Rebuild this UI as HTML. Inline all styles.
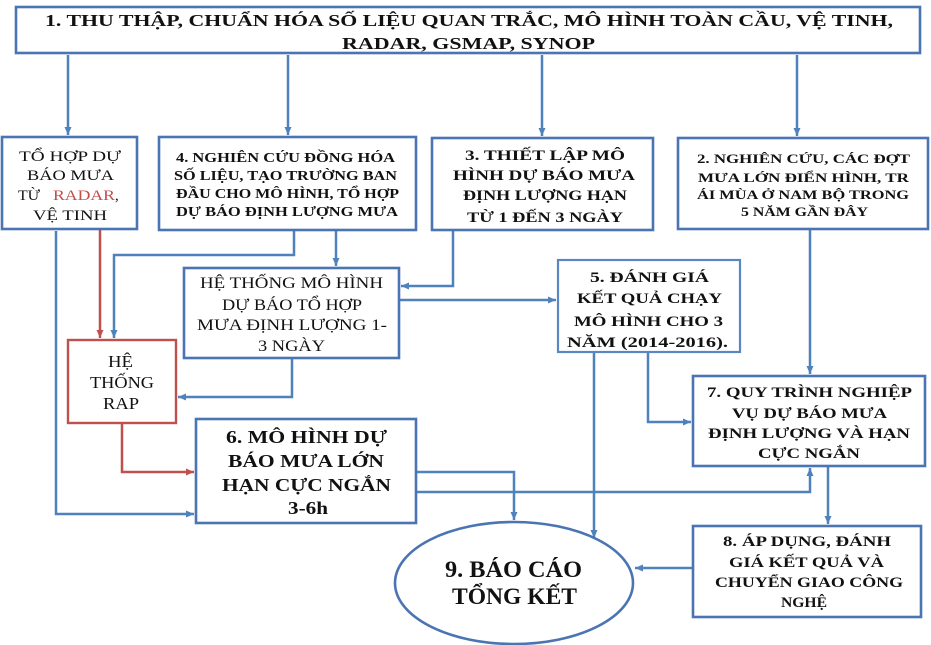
<!DOCTYPE html>
<html>
<head>
<meta charset="utf-8">
<style>
  html,body{margin:0;padding:0;background:#fff;}
  svg{display:block;}
  text{font-family:"Liberation Serif","DejaVu Serif",serif;fill:#111;}
  .b{font-weight:bold;}
</style>
</head>
<body>
<svg width="931" height="645" viewBox="0 0 931 645" xmlns="http://www.w3.org/2000/svg">
  <defs>
    <marker id="ab" markerUnits="userSpaceOnUse" markerWidth="10" markerHeight="10" refX="8" refY="4" orient="auto">
      <path d="M0,0.5 L8,4 L0,7.5 Z" fill="#4f81bd"/>
    </marker>
    <marker id="ar" markerUnits="userSpaceOnUse" markerWidth="10" markerHeight="10" refX="8" refY="4" orient="auto">
      <path d="M0,0.5 L8,4 L0,7.5 Z" fill="#c0504d"/>
    </marker>
  </defs>
  <rect width="931" height="645" fill="#fff"/>

  <!-- connectors blue -->
  <g fill="none" stroke="#4f81bd" stroke-width="2.5" stroke-linejoin="miter">
    <polyline points="68,55 68,135" marker-end="url(#ab)"/>
    <polyline points="288,55 288,135" marker-end="url(#ab)"/>
    <polyline points="542,55 542,136" marker-end="url(#ab)"/>
    <polyline points="797,55 797,136" marker-end="url(#ab)"/>
    <polyline points="56,231 56,514 194,514" marker-end="url(#ab)"/>
    <polyline points="294,231 294,255 114,255 114,338" marker-end="url(#ab)"/>
    <polyline points="336,231 336,266" marker-end="url(#ab)"/>
    <polyline points="453,231 453,286 401,286" marker-end="url(#ab)"/>
    <polyline points="400,300 556,300" marker-end="url(#ab)"/>
    <polyline points="292,359 292,397 178,397" marker-end="url(#ab)"/>
    <polyline points="417,472 514,472 514,520" marker-end="url(#ab)"/>
    <polyline points="417,492 810,492 810,468" marker-end="url(#ab)"/>
    <polyline points="594,353 594,538" marker-end="url(#ab)"/>
    <polyline points="648,353 648,422 691,422" marker-end="url(#ab)"/>
    <polyline points="810,230 810,374" marker-end="url(#ab)"/>
    <polyline points="828,467 828,524" marker-end="url(#ab)"/>
    <polyline points="692,568 635,568" marker-end="url(#ab)"/>
  </g>
  <!-- connectors red -->
  <g fill="none" stroke="#c0504d" stroke-width="2.5">
    <polyline points="100,230 100,338" marker-end="url(#ar)"/>
    <polyline points="122,424 122,472 194,472" marker-end="url(#ar)"/>
  </g>

  <!-- boxes -->
  <g fill="#fff" stroke="#4a74b2" stroke-width="2.6">
    <rect x="16" y="7" width="904" height="46"/>
    <rect x="2" y="137" width="135" height="92"/>
    <rect x="159" y="137" width="257" height="93"/>
    <rect x="432" y="138" width="221" height="92"/>
    <rect x="678" y="138" width="250" height="91"/>
    <rect x="184" y="268" width="215" height="90"/>
    <rect x="558" y="260" width="182" height="92" stroke-width="2.2" stroke="#5a86c2"/>
    <rect x="196" y="419" width="220" height="104"/>
    <rect x="693" y="376" width="232" height="90"/>
    <rect x="693" y="526" width="228" height="91"/>
    <ellipse cx="514" cy="583" rx="119" ry="61"/>
  </g>
  <rect x="68" y="340" width="108" height="83" fill="#fff" stroke="#c0504d" stroke-width="2.4"/>

  <!-- Box 1 -->
  <text class="b" font-size="17" x="45" y="26" textLength="848" lengthAdjust="spacingAndGlyphs">1. THU THẬP, CHUẨN HÓA SỐ LIỆU QUAN TRẮC, MÔ HÌNH TOÀN CẦU, VỆ TINH,</text>
  <text class="b" font-size="17" x="342" y="49" textLength="253" lengthAdjust="spacingAndGlyphs">RADAR, GSMAP,  SYNOP</text>

  <!-- TO HOP box -->
  <g font-size="15">
    <text x="19" y="161" textLength="102" lengthAdjust="spacingAndGlyphs">TỔ HỢP DỰ</text>
    <text x="27" y="180" textLength="87" lengthAdjust="spacingAndGlyphs">BÁO MƯA</text>
    <text x="18" y="200" textLength="22" lengthAdjust="spacingAndGlyphs">TỪ</text>
    <text x="53" y="200" textLength="62" lengthAdjust="spacingAndGlyphs" style="fill:#c0504d">RADAR</text>
    <text x="115" y="200">,</text>
    <text x="33" y="220" textLength="74" lengthAdjust="spacingAndGlyphs">VỆ TINH</text>
  </g>

  <!-- Box 4 -->
  <g class="b" font-size="13.5">
    <text x="176" y="162" textLength="219" lengthAdjust="spacingAndGlyphs">4. NGHIÊN CỨU ĐỒNG HÓA</text>
    <text x="174" y="180" textLength="223" lengthAdjust="spacingAndGlyphs">SỐ LIỆU, TẠO TRƯỜNG BAN</text>
    <text x="176" y="198" textLength="223" lengthAdjust="spacingAndGlyphs">ĐẦU CHO MÔ HÌNH, TỔ HỢP</text>
    <text x="176" y="216" textLength="222" lengthAdjust="spacingAndGlyphs">DỰ BÁO ĐỊNH LƯỢNG MƯA</text>
  </g>

  <!-- Box 3 -->
  <g class="b" font-size="15">
    <text x="465" y="160" textLength="160" lengthAdjust="spacingAndGlyphs">3. THIẾT  LẬP MÔ</text>
    <text x="453" y="180" textLength="182" lengthAdjust="spacingAndGlyphs">HÌNH DỰ BÁO MƯA</text>
    <text x="463" y="200" textLength="164" lengthAdjust="spacingAndGlyphs">ĐỊNH LƯỢNG HẠN</text>
    <text x="467" y="222" textLength="156" lengthAdjust="spacingAndGlyphs">TỪ 1 ĐẾN 3 NGÀY</text>
  </g>

  <!-- Box 2 -->
  <g class="b" font-size="13">
    <text x="697" y="163" textLength="213" lengthAdjust="spacingAndGlyphs">2. NGHIÊN CỨU, CÁC   ĐỢT</text>
    <text x="698" y="182" textLength="211" lengthAdjust="spacingAndGlyphs">MƯA  LỚN  ĐIỂN HÌNH, TR</text>
    <text x="697" y="199" textLength="212" lengthAdjust="spacingAndGlyphs">ÁI MÙA Ở NAM BỘ TRONG</text>
    <text x="741" y="216" textLength="127" lengthAdjust="spacingAndGlyphs">5 NĂM GẦN ĐÂY</text>
  </g>

  <!-- He thong mo hinh -->
  <g font-size="16">
    <text x="200" y="288" textLength="183" lengthAdjust="spacingAndGlyphs">HỆ THỐNG MÔ HÌNH</text>
    <text x="222" y="310" textLength="140" lengthAdjust="spacingAndGlyphs">DỰ BÁO TỔ HỢP</text>
    <text x="197" y="330" textLength="190" lengthAdjust="spacingAndGlyphs">MƯA ĐỊNH LƯỢNG 1-</text>
    <text x="258" y="351" textLength="67" lengthAdjust="spacingAndGlyphs">3 NGÀY</text>
  </g>

  <!-- Box 5 -->
  <g class="b" font-size="15">
    <text x="590" y="282" textLength="119" lengthAdjust="spacingAndGlyphs">5. ĐÁNH GIÁ</text>
    <text x="577" y="303" textLength="145" lengthAdjust="spacingAndGlyphs">KẾT QUẢ CHẠY</text>
    <text x="574" y="326" textLength="149" lengthAdjust="spacingAndGlyphs">MÔ HÌNH CHO 3</text>
    <text x="567" y="347" textLength="161" lengthAdjust="spacingAndGlyphs">NĂM (2014-2016).</text>
  </g>

  <!-- RAP -->
  <g font-size="17">
    <text x="108" y="367" textLength="25" lengthAdjust="spacingAndGlyphs">HỆ</text>
    <text x="90" y="388" textLength="64" lengthAdjust="spacingAndGlyphs">THỐNG</text>
    <text x="103" y="409" textLength="36" lengthAdjust="spacingAndGlyphs">RAP</text>
  </g>

  <!-- Box 6 -->
  <g class="b" font-size="18">
    <text x="226" y="443" textLength="161" lengthAdjust="spacingAndGlyphs">6. MÔ HÌNH DỰ</text>
    <text x="228" y="467" textLength="156" lengthAdjust="spacingAndGlyphs">BÁO MƯA LỚN</text>
    <text x="222" y="491" textLength="169" lengthAdjust="spacingAndGlyphs">HẠN CỰC NGẮN</text>
    <text x="288" y="514" textLength="40" lengthAdjust="spacingAndGlyphs">3-6h</text>
  </g>

  <!-- Box 7 -->
  <g class="b" font-size="15">
    <text x="707" y="397" textLength="205" lengthAdjust="spacingAndGlyphs">7. QUY TRÌNH NGHIỆP</text>
    <text x="732" y="418" textLength="155" lengthAdjust="spacingAndGlyphs">VỤ DỰ BÁO MƯA</text>
    <text x="708" y="438" textLength="202" lengthAdjust="spacingAndGlyphs">ĐỊNH LƯỢNG VÀ HẠN</text>
    <text x="758" y="458" textLength="102" lengthAdjust="spacingAndGlyphs">CỰC NGẮN</text>
  </g>

  <!-- Box 8 -->
  <g class="b" font-size="14.5">
    <text x="723" y="546" textLength="168" lengthAdjust="spacingAndGlyphs">8. ÁP DỤNG, ĐÁNH</text>
    <text x="729" y="567" textLength="155" lengthAdjust="spacingAndGlyphs">GIÁ KẾT QUẢ VÀ</text>
    <text x="715" y="587" textLength="188" lengthAdjust="spacingAndGlyphs">CHUYỂN GIAO CÔNG</text>
    <text x="781" y="607" textLength="46" lengthAdjust="spacingAndGlyphs">NGHỆ</text>
  </g>

  <!-- Ellipse 9 -->
  <g class="b" font-size="23">
    <text x="445" y="577" textLength="137" lengthAdjust="spacingAndGlyphs">9. BÁO CÁO</text>
    <text x="452" y="604" textLength="125" lengthAdjust="spacingAndGlyphs">TỔNG KẾT</text>
  </g>
</svg>
</body>
</html>
